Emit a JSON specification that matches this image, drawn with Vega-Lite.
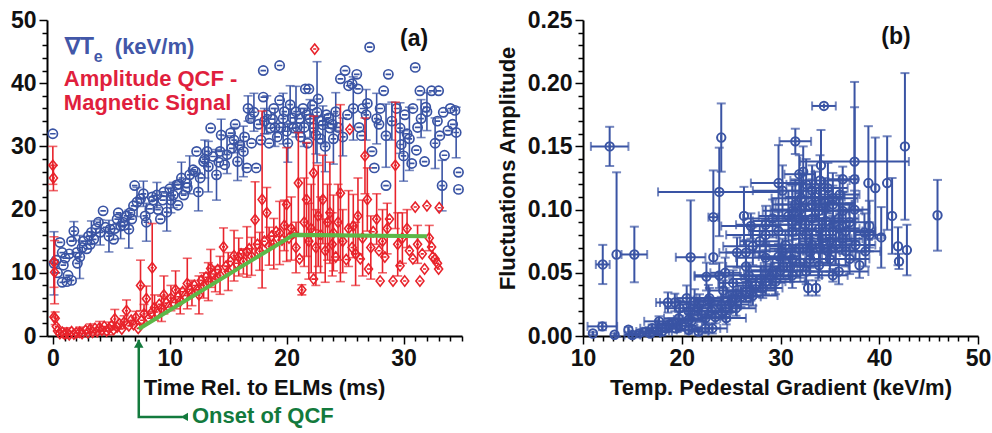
{
"$schema": "https://vega.github.io/schema/vega-lite/v6.json",
"padding": {"left": 10, "top": 9, "right": 5, "bottom": 5},
"background": "white",
"spacing": 29,
"config": {"view": {"stroke": null}, "axis": {"grid": false, "domainColor": "#000", "domainWidth": 2, "tickColor": "#000", "tickWidth": 1.5, "labelFont": "Liberation Sans", "labelFontSize": 23, "labelFontWeight": "bold", "labelColor": "#111", "titleFont": "Liberation Sans", "titleFontSize": 22, "titleFontWeight": "bold", "titleColor": "#111", "labelOverlap": false, "labelPadding": 3, "labelFlush": false}},
"datasets": {
"te": [{"x":0,"y":32,"e":0},{"x":0.1,"y":11.5,"e":5},{"x":0.4,"y":10,"e":0},{"x":0.6,"y":14.8,"e":0},{"x":0.8,"y":13.2,"e":0},{"x":0.9,"y":11.2,"e":0},{"x":0.8,"y":8.5,"e":0},{"x":1.2,"y":8.6,"e":0},{"x":1.6,"y":8.8,"e":0},{"x":1.3,"y":9.6,"e":0},{"x":1.05,"y":12.3,"e":0},{"x":1.6,"y":15,"e":0},{"x":1.8,"y":16.6,"e":1.5},{"x":2.05,"y":13.2,"e":0},{"x":2.3,"y":12.5,"e":3.4},{"x":2.1,"y":11.5,"e":0},{"x":2.6,"y":15,"e":0},{"x":3.05,"y":15.8,"e":0},{"x":3.3,"y":16.4,"e":1.8},{"x":2.9,"y":13.8,"e":0},{"x":3.9,"y":18,"e":0},{"x":3.5,"y":15.3,"e":0},{"x":4.05,"y":16.4,"e":2},{"x":4.3,"y":19.8,"e":0},{"x":4.5,"y":17.2,"e":0},{"x":4.8,"y":15.8,"e":2.5},{"x":4.9,"y":16.9,"e":0},{"x":5.2,"y":15.3,"e":0},{"x":5.5,"y":18.5,"e":0},{"x":5.6,"y":19.5,"e":0},{"x":5.8,"y":17.4,"e":2},{"x":6.0,"y":18,"e":0},{"x":6.3,"y":19,"e":0},{"x":6.5,"y":16.9,"e":3},{"x":6.75,"y":18.5,"e":0},{"x":6.9,"y":20.6,"e":0},{"x":7.0,"y":23.8,"e":0},{"x":7.2,"y":21.2,"e":2.3},{"x":7.5,"y":21.7,"e":0},{"x":7.75,"y":22.5,"e":2},{"x":7.9,"y":19,"e":0},{"x":8.0,"y":18,"e":3},{"x":8.3,"y":20.1,"e":0},{"x":8.6,"y":21.5,"e":0},{"x":8.9,"y":22.3,"e":2},{"x":9.2,"y":18.5,"e":0},{"x":9.5,"y":22.8,"e":0},{"x":9.75,"y":19.6,"e":3},{"x":10.0,"y":23.3,"e":0},{"x":10.3,"y":22.3,"e":2},{"x":10.6,"y":23.9,"e":0},{"x":10.7,"y":20.7,"e":0},{"x":11.0,"y":25,"e":2.5},{"x":11.2,"y":22.3,"e":0},{"x":11.45,"y":24.2,"e":0},{"x":11.7,"y":25.5,"e":3},{"x":12,"y":26.3,"e":0},{"x":12.3,"y":29.2,"e":0},{"x":12.45,"y":22.8,"e":3},{"x":12.6,"y":25,"e":0},{"x":12.9,"y":27.6,"e":0},{"x":13.2,"y":29.2,"e":0},{"x":13.5,"y":32.9,"e":0},{"x":13.3,"y":26.8,"e":4},{"x":13.7,"y":28.4,"e":0},{"x":14.0,"y":25.5,"e":4},{"x":14.3,"y":29.2,"e":0},{"x":14.4,"y":31.8,"e":2.5},{"x":14.7,"y":27.1,"e":0},{"x":14.9,"y":28.7,"e":3},{"x":15.2,"y":32.1,"e":0},{"x":15.3,"y":29.7,"e":0},{"x":15.6,"y":33.5,"e":0},{"x":15.8,"y":27.6,"e":3},{"x":16.0,"y":30.2,"e":0},{"x":16.3,"y":29.2,"e":4},{"x":16.6,"y":26.6,"e":0},{"x":16.7,"y":36,"e":2},{"x":16.9,"y":34.4,"e":0},{"x":17.2,"y":35.4,"e":3},{"x":17.4,"y":26.6,"e":0},{"x":17.6,"y":33.5,"e":0},{"x":18,"y":42,"e":0},{"x":18,"y":37.8,"e":0},{"x":18.3,"y":35,"e":3},{"x":18.6,"y":32.9,"e":0},{"x":18.9,"y":36,"e":0},{"x":19.4,"y":42.8,"e":0},{"x":19.4,"y":37.3,"e":0},{"x":19.7,"y":34.4,"e":4},{"x":20,"y":32.4,"e":0},{"x":20.3,"y":36.6,"e":3},{"x":20.6,"y":32.9,"e":0},{"x":21.1,"y":34.4,"e":0},{"x":21.4,"y":36,"e":0},{"x":21.6,"y":39.1,"e":0},{"x":21.9,"y":39.1,"e":0},{"x":22,"y":34.4,"e":3},{"x":22.3,"y":32.9,"e":0},{"x":22.6,"y":35.4,"e":8},{"x":22.7,"y":37.5,"e":0},{"x":22.9,"y":31.2,"e":0},{"x":23.1,"y":33.4,"e":3},{"x":23.4,"y":35,"e":0},{"x":23.7,"y":32.9,"e":0},{"x":24,"y":31.2,"e":4},{"x":24.6,"y":40.7,"e":0},{"x":25,"y":42,"e":0},{"x":25.3,"y":39.6,"e":0},{"x":25.6,"y":39.9,"e":0},{"x":26,"y":41.4,"e":0},{"x":26.1,"y":39.1,"e":0},{"x":25.7,"y":36,"e":5},{"x":26.4,"y":31.7,"e":0},{"x":26.5,"y":36,"e":0},{"x":26.8,"y":35,"e":4},{"x":27.1,"y":45.7,"e":0},{"x":27.3,"y":29.2,"e":0},{"x":27.5,"y":26.6,"e":0},{"x":27.7,"y":34.4,"e":4},{"x":28,"y":36,"e":0},{"x":28.3,"y":38.8,"e":0},{"x":28.5,"y":31.7,"e":5},{"x":28.5,"y":23.8,"e":0},{"x":28.7,"y":41.4,"e":0},{"x":29.4,"y":36,"e":0},{"x":29.7,"y":32.9,"e":4},{"x":29.8,"y":30.3,"e":0},{"x":30.1,"y":35,"e":0},{"x":30.5,"y":31.2,"e":5},{"x":30.7,"y":27.3,"e":0},{"x":30.8,"y":36,"e":0},{"x":31,"y":42.5,"e":0},{"x":31.1,"y":29.4,"e":0},{"x":31.4,"y":38.8,"e":0},{"x":31.5,"y":34.4,"e":3},{"x":31.8,"y":27.6,"e":0},{"x":31.9,"y":36.2,"e":0},{"x":32.4,"y":38.8,"e":0},{"x":32.7,"y":30.5,"e":4},{"x":33,"y":38.8,"e":0},{"x":33.1,"y":31.7,"e":0},{"x":33.3,"y":23.8,"e":4},{"x":33.4,"y":35.4,"e":0},{"x":33.5,"y":28.6,"e":0},{"x":34,"y":36,"e":0},{"x":34.2,"y":33.5,"e":0},{"x":34.5,"y":32.2,"e":4},{"x":34.7,"y":25.9,"e":0},{"x":34.7,"y":23.2,"e":0},{"x":34.4,"y":35.7,"e":0},{"x":17.8,"y":31,"e":0},{"x":18.1,"y":34,"e":2},{"x":18.5,"y":30.5,"e":0},{"x":19,"y":33,"e":3},{"x":19.2,"y":31.5,"e":0},{"x":19.8,"y":35.5,"e":0},{"x":20.1,"y":30.5,"e":3},{"x":20.5,"y":34.5,"e":0},{"x":20.8,"y":35.5,"e":4},{"x":21.2,"y":31.5,"e":0},{"x":21.5,"y":33,"e":3},{"x":21.8,"y":30.5,"e":0},{"x":22.2,"y":36.5,"e":0},{"x":22.5,"y":31.8,"e":3},{"x":23.0,"y":34,"e":0},{"x":23.3,"y":30,"e":4},{"x":23.6,"y":34.5,"e":0},{"x":23.9,"y":33.5,"e":0},{"x":24.2,"y":35.5,"e":3},{"x":24.4,"y":33,"e":0},{"x":20.9,"y":33,"e":0},{"x":21.7,"y":35,"e":0},{"x":19.5,"y":33,"e":0},{"x":18.8,"y":34.3,"e":0},{"x":17,"y":30.5,"e":0},{"x":16.4,"y":31.5,"e":0},{"x":15.5,"y":31,"e":2},{"x":14.2,"y":27.5,"e":0},{"x":13.0,"y":28,"e":3},{"x":12.2,"y":26,"e":0},{"x":11.5,"y":23.5,"e":0},{"x":10.8,"y":24,"e":0},{"x":10.1,"y":21.5,"e":2},{"x":9.4,"y":21.5,"e":0},{"x":9,"y":20,"e":0},{"x":8.5,"y":22,"e":0},{"x":6.6,"y":19.5,"e":0},{"x":6.1,"y":17.5,"e":0},{"x":5.3,"y":17,"e":0},{"x":3.7,"y":17,"e":0},{"x":3.2,"y":14.5,"e":0},{"x":2.5,"y":14,"e":0},{"x":1.4,"y":13,"e":0},{"x":0.3,"y":12,"e":0},{"x":27.9,"y":33.5,"e":0},{"x":29,"y":34,"e":3},{"x":30.3,"y":32,"e":0},{"x":31.2,"y":33,"e":0},{"x":32,"y":35.5,"e":3},{"x":32.9,"y":34,"e":0},{"x":33.8,"y":32.5,"e":0},{"x":26.2,"y":33,"e":0},{"x":25.2,"y":35,"e":0},{"x":24.8,"y":31.5,"e":3},{"x":26.9,"y":36.8,"e":0},{"x":30.0,"y":28.5,"e":4}],
"qcf": [{"x":0,"y":27,"e":3},{"x":0.05,"y":25,"e":2},{"x":0.1,"y":11.7,"e":4},{"x":0.15,"y":10.1,"e":5},{"x":0.1,"y":3.0,"e":0},{"x":0.2,"y":2.8,"e":1},{"x":0.3,"y":1.5,"e":0},{"x":0.4,"y":0.8,"e":0},{"x":0.6,"y":0.4,"e":0},{"x":0.8,"y":0.6,"e":0},{"x":1.0,"y":0.3,"e":0},{"x":1.2,"y":0.5,"e":0.8},{"x":1.4,"y":0.2,"e":0},{"x":1.6,"y":0.7,"e":0},{"x":1.8,"y":0.3,"e":0},{"x":2.0,"y":0.5,"e":0},{"x":2.3,"y":0.6,"e":0.8},{"x":2.5,"y":0.4,"e":0},{"x":2.8,"y":0.9,"e":0},{"x":3.0,"y":0.5,"e":0},{"x":3.2,"y":1.1,"e":0.8},{"x":3.4,"y":0.6,"e":0},{"x":3.6,"y":1.2,"e":0},{"x":3.8,"y":0.7,"e":0},{"x":4.0,"y":1.3,"e":1},{"x":4.2,"y":0.9,"e":0},{"x":4.4,"y":1.5,"e":0},{"x":4.6,"y":0.8,"e":0},{"x":4.8,"y":1.2,"e":1},{"x":5.0,"y":1.6,"e":0},{"x":5.2,"y":1.0,"e":0},{"x":5.3,"y":2.7,"e":1.5},{"x":5.5,"y":1.4,"e":0},{"x":5.7,"y":1.9,"e":0},{"x":5.9,"y":1.1,"e":0},{"x":6.1,"y":2.2,"e":1},{"x":6.3,"y":4.0,"e":1.7},{"x":6.5,"y":1.6,"e":0},{"x":6.7,"y":2.5,"e":0},{"x":6.9,"y":1.8,"e":0},{"x":7.1,"y":2.9,"e":1},{"x":7.3,"y":1.2,"e":0},{"x":7.5,"y":8.0,"e":4},{"x":7.6,"y":2.5,"e":0},{"x":7.8,"y":3.5,"e":1.5},{"x":8.0,"y":5.9,"e":2},{"x":8.2,"y":2.8,"e":0},{"x":8.4,"y":3.6,"e":0},{"x":8.5,"y":10.8,"e":7},{"x":8.7,"y":4.5,"e":2},{"x":8.9,"y":3.8,"e":0},{"x":9.1,"y":5.0,"e":0},{"x":9.3,"y":4.3,"e":2},{"x":9.5,"y":6.5,"e":3},{"x":9.7,"y":5.2,"e":0},{"x":9.9,"y":4.6,"e":0},{"x":10.1,"y":6.0,"e":2},{"x":10.3,"y":5.3,"e":0},{"x":10.5,"y":7.3,"e":3},{"x":10.7,"y":6.2,"e":0},{"x":10.9,"y":5.5,"e":2},{"x":11.1,"y":7.0,"e":0},{"x":11.3,"y":6.4,"e":0},{"x":11.5,"y":8.3,"e":4},{"x":11.7,"y":7.4,"e":0},{"x":11.9,"y":6.8,"e":2},{"x":12.1,"y":8.0,"e":0},{"x":12.3,"y":7.3,"e":0},{"x":12.5,"y":6.5,"e":3},{"x":12.7,"y":8.8,"e":0},{"x":12.9,"y":8.0,"e":2},{"x":13.1,"y":9.3,"e":0},{"x":13.3,"y":8.6,"e":3},{"x":13.5,"y":10.7,"e":3},{"x":13.7,"y":9.8,"e":0},{"x":13.9,"y":9.0,"e":2},{"x":14.1,"y":10.5,"e":0},{"x":14.3,"y":9.6,"e":3},{"x":14.6,"y":14.1,"e":3},{"x":14.8,"y":11.0,"e":0},{"x":15.0,"y":10.2,"e":3},{"x":15.2,"y":11.8,"e":0},{"x":15.5,"y":12.7,"e":4},{"x":15.7,"y":11.5,"e":0},{"x":15.9,"y":12.5,"e":3},{"x":16.1,"y":13.0,"e":0},{"x":16.3,"y":11.8,"e":2},{"x":16.6,"y":13.3,"e":4},{"x":16.8,"y":13.8,"e":0},{"x":17.0,"y":12.6,"e":3},{"x":17.3,"y":18.4,"e":6},{"x":17.5,"y":14.5,"e":0},{"x":17.7,"y":13.4,"e":3},{"x":17.9,"y":21.6,"e":14},{"x":18.1,"y":15.0,"e":0},{"x":18.3,"y":19.5,"e":4},{"x":18.5,"y":14.2,"e":3},{"x":18.7,"y":15.8,"e":0},{"x":18.9,"y":14.6,"e":4},{"x":19.1,"y":16.5,"e":0},{"x":19.4,"y":16.3,"e":5},{"x":19.6,"y":15.2,"e":0},{"x":19.8,"y":17.5,"e":4},{"x":20.0,"y":20.8,"e":9},{"x":20.2,"y":15.5,"e":0},{"x":20.4,"y":17.0,"e":5},{"x":20.6,"y":16.3,"e":0},{"x":20.8,"y":14.0,"e":4},{"x":21.0,"y":24.2,"e":8},{"x":21.1,"y":12.2,"e":0},{"x":21.3,"y":7.3,"e":0.8},{"x":21.5,"y":18,"e":7},{"x":21.7,"y":21.6,"e":9},{"x":21.9,"y":15,"e":6},{"x":22.1,"y":17,"e":7},{"x":22.3,"y":25.8,"e":9},{"x":22.3,"y":9.0,"e":0},{"x":22.4,"y":45.4,"e":0},{"x":22.5,"y":14,"e":6},{"x":22.7,"y":19,"e":8},{"x":22.9,"y":16,"e":6},{"x":23.1,"y":21.6,"e":7},{"x":23.3,"y":13.5,"e":5},{"x":23.5,"y":18,"e":6},{"x":23.7,"y":19.5,"e":8},{"x":23.9,"y":14.5,"e":5},{"x":24.0,"y":16.3,"e":6},{"x":24.2,"y":12.5,"e":0},{"x":24.4,"y":18,"e":6},{"x":24.6,"y":22.6,"e":14},{"x":24.8,"y":15,"e":5},{"x":25.1,"y":12.1,"e":0},{"x":25.3,"y":17,"e":6},{"x":25.4,"y":32.7,"e":0},{"x":25.6,"y":14,"e":0},{"x":25.7,"y":17.4,"e":5},{"x":25.9,"y":13,"e":5},{"x":26.1,"y":19,"e":6},{"x":26.3,"y":12.2,"e":0},{"x":26.5,"y":15.5,"e":6},{"x":26.7,"y":28.5,"e":6},{"x":26.9,"y":21.6,"e":5},{"x":27.0,"y":10.6,"e":0},{"x":27.2,"y":14,"e":5},{"x":27.4,"y":16.5,"e":0},{"x":27.7,"y":18.5,"e":4},{"x":27.9,"y":13.5,"e":0},{"x":28.0,"y":8.7,"e":0},{"x":28.2,"y":15,"e":5},{"x":28.4,"y":12.5,"e":0},{"x":28.6,"y":17,"e":4},{"x":28.8,"y":18.5,"e":0},{"x":29.1,"y":8.7,"e":0},{"x":29.3,"y":27,"e":10},{"x":29.5,"y":14.5,"e":5},{"x":29.7,"y":11.1,"e":0},{"x":29.9,"y":15.5,"e":4},{"x":30.1,"y":8.7,"e":0},{"x":30.3,"y":17,"e":3},{"x":30.5,"y":13.5,"e":0},{"x":30.8,"y":12.2,"e":0},{"x":31.0,"y":20.4,"e":0},{"x":31.2,"y":14.5,"e":3},{"x":31.4,"y":8.7,"e":0},{"x":31.6,"y":13,"e":0},{"x":31.8,"y":10.6,"e":0},{"x":32.0,"y":20.6,"e":0},{"x":32.2,"y":15.5,"e":2},{"x":32.4,"y":14.1,"e":0},{"x":32.5,"y":12.5,"e":0},{"x":32.7,"y":12.2,"e":0},{"x":32.9,"y":11.5,"e":0},{"x":33.0,"y":10.6,"e":0},{"x":33.05,"y":20.3,"e":0}],
"fb": [{"x":12.7,"y":0.150,"ex":1.9,"ey":0.0155},{"x":12.0,"y":0.0566,"ex":0.7,"ey":0.0155},{"x":13.4,"y":0.0645,"ex":0,"ey":0.065},{"x":15.2,"y":0.0645,"ex":1.3,"ey":0.022},{"x":11.96,"y":0.0076,"ex":1.5,"ey":0.003},{"x":14.6,"y":0.005,"ex":0,"ey":0.002},{"x":20.9,"y":0.0623,"ex":1.5,"ey":0.045},{"x":23.8,"y":0.114,"ex":6.2,"ey":0.035},{"x":24.0,"y":0.157,"ex":0,"ey":0.027},{"x":23.2,"y":0.094,"ex":0.5,"ey":0.037},{"x":23.2,"y":0.0623,"ex":0,"ey":0},{"x":26.3,"y":0.095,"ex":0,"ey":0.023},{"x":29.8,"y":0.121,"ex":2.8,"ey":0.03},{"x":31.5,"y":0.154,"ex":1.6,"ey":0.01},{"x":34.4,"y":0.182,"ex":1.2,"ey":0},{"x":34.1,"y":0.135,"ex":0,"ey":0.028},{"x":37.5,"y":0.138,"ex":5.5,"ey":0.063},{"x":37.5,"y":0.124,"ex":0,"ey":0.057},{"x":42.6,"y":0.150,"ex":0,"ey":0.058},{"x":45.9,"y":0.0955,"ex":0,"ey":0.028},{"x":41.3,"y":0.095,"ex":0,"ey":0.03},{"x":41.9,"y":0.071,"ex":0,"ey":0.015},{"x":42.8,"y":0.068,"ex":0,"ey":0.02},{"x":42.0,"y":0.059,"ex":0,"ey":0.006},{"x":40.2,"y":0.078,"ex":0,"ey":0.024},{"x":40.8,"y":0.121,"ex":0,"ey":0.037},{"x":38.9,"y":0.121,"ex":0,"ey":0.045},{"x":39.6,"y":0.117,"ex":0,"ey":0.04},{"x":39.0,"y":0.087,"ex":0,"ey":0.02},{"x":32.8,"y":0.038,"ex":0,"ey":0.006},{"x":33.6,"y":0.038,"ex":0,"ey":0.006},{"x":35.3,"y":0.048,"ex":1.5,"ey":0.005},{"x":38.0,"y":0.056,"ex":0,"ey":0.01},{"x":18.6,"y":0.0265,"ex":1.2,"ey":0.008},{"x":19.3,"y":0.0265,"ex":1.5,"ey":0.007},{"x":20.7,"y":0.0196,"ex":1,"ey":0.006},{"x":21.3,"y":0.027,"ex":2,"ey":0.01},{"x":22.7,"y":0.0284,"ex":1.5,"ey":0.012},{"x":22.5,"y":0.047,"ex":1.2,"ey":0.011},{"x":23.8,"y":0.048,"ex":2.5,"ey":0.01},{"x":24.4,"y":0.05,"ex":1.5,"ey":0.012},{"x":25.6,"y":0.066,"ex":1.8,"ey":0.012},{"x":26.5,"y":0.066,"ex":2,"ey":0.01},{"x":27.2,"y":0.071,"ex":3,"ey":0.015},{"x":27.0,"y":0.087,"ex":3,"ey":0.01},{"x":26.5,"y":0.055,"ex":2,"ey":0.012},{"x":28.5,"y":0.062,"ex":3,"ey":0.012},{"x":28.5,"y":0.080,"ex":4,"ey":0.012},{"x":29.8,"y":0.063,"ex":2,"ey":0.01},{"x":30.2,"y":0.115,"ex":3,"ey":0.02},{"x":30.3,"y":0.055,"ex":2,"ey":0.01},{"x":31.9,"y":0.128,"ex":1.5,"ey":0.015},{"x":32.1,"y":0.109,"ex":3,"ey":0.02},{"x":33.2,"y":0.104,"ex":4,"ey":0.02},{"x":33.9,"y":0.085,"ex":3,"ey":0.015},{"x":35.3,"y":0.109,"ex":2.5,"ey":0.02},{"x":36.3,"y":0.124,"ex":1.5,"ey":0.01},{"x":35.6,"y":0.072,"ex":3,"ey":0.015},{"x":36.6,"y":0.083,"ex":3,"ey":0.015},{"x":34.8,"y":0.067,"ex":2.5,"ey":0.01},{"x":32.6,"y":0.080,"ex":3,"ey":0.015},{"x":31.2,"y":0.091,"ex":4,"ey":0.015},{"x":30.5,"y":0.072,"ex":3,"ey":0.012},{"x":29.2,"y":0.051,"ex":2.5,"ey":0.01},{"x":28.5,"y":0.043,"ex":2,"ey":0.01},{"x":27.5,"y":0.040,"ex":2,"ey":0.008},{"x":26.5,"y":0.035,"ex":2,"ey":0.008},{"x":25.5,"y":0.030,"ex":1.5,"ey":0.007},{"x":24.8,"y":0.025,"ex":2,"ey":0.007},{"x":24.1,"y":0.019,"ex":1.5,"ey":0.006},{"x":23.4,"y":0.015,"ex":1.5,"ey":0.005},{"x":22.4,"y":0.014,"ex":1.5,"ey":0.005},{"x":21.6,"y":0.022,"ex":1.5,"ey":0.006},{"x":20.7,"y":0.013,"ex":1.5,"ey":0.005},{"x":19.7,"y":0.014,"ex":1.5,"ey":0.005},{"x":18.7,"y":0.0089,"ex":1.2,"ey":0.004},{"x":17.7,"y":0.0116,"ex":1.5,"ey":0.004},{"x":17.0,"y":0.0061,"ex":1.2,"ey":0.003},{"x":16.4,"y":0.0035,"ex":1,"ey":0.003},{"x":15.7,"y":0.0021,"ex":1,"ey":0.002},{"x":15.0,"y":0.0008,"ex":0.8,"ey":0.002},{"x":18.0,"y":0.0035,"ex":1,"ey":0.003},{"x":19.4,"y":0.006,"ex":1,"ey":0.003},{"x":20.7,"y":0.0048,"ex":1.2,"ey":0.003},{"x":21.7,"y":0.0035,"ex":1,"ey":0.003},{"x":23.1,"y":0.006,"ex":1.5,"ey":0.004},{"x":24.5,"y":0.0142,"ex":2,"ey":0.005},{"x":22.4,"y":0.006,"ex":1.5,"ey":0.004},{"x":25.5,"y":0.022,"ex":2,"ey":0.006},{"x":27.2,"y":0.032,"ex":2.5,"ey":0.008},{"x":28.2,"y":0.038,"ex":2,"ey":0.008},{"x":29.5,"y":0.043,"ex":3,"ey":0.01},{"x":31.2,"y":0.048,"ex":3,"ey":0.01},{"x":32.6,"y":0.051,"ex":3,"ey":0.01},{"x":33.9,"y":0.056,"ex":3,"ey":0.01},{"x":35.9,"y":0.051,"ex":3,"ey":0.01},{"x":37.0,"y":0.061,"ex":2,"ey":0.012},{"x":37.6,"y":0.072,"ex":2,"ey":0.012},{"x":38.6,"y":0.067,"ex":1.5,"ey":0.012},{"x":39.0,"y":0.080,"ex":1.5,"ey":0.01},{"x":31.2,"y":0.099,"ex":3,"ey":0.02},{"x":31.5,"y":0.104,"ex":2,"ey":0.02},{"x":31.9,"y":0.093,"ex":2.5,"ey":0.02},{"x":33.2,"y":0.093,"ex":3,"ey":0.02},{"x":33.9,"y":0.099,"ex":3,"ey":0.02},{"x":34.6,"y":0.091,"ex":3,"ey":0.015},{"x":35.9,"y":0.093,"ex":2,"ey":0.015},{"x":36.3,"y":0.099,"ex":2,"ey":0.015},{"x":33.2,"y":0.115,"ex":2,"ey":0.02},{"x":32.6,"y":0.120,"ex":2,"ey":0.02},{"x":35.3,"y":0.104,"ex":2,"ey":0.015},{"x":31.2,"y":0.083,"ex":3,"ey":0.015},{"x":29.8,"y":0.083,"ex":3,"ey":0.015},{"x":29.2,"y":0.093,"ex":3,"ey":0.015},{"x":28.5,"y":0.088,"ex":3,"ey":0.015},{"x":31.9,"y":0.069,"ex":3,"ey":0.012},{"x":33.2,"y":0.072,"ex":3,"ey":0.012},{"x":34.2,"y":0.077,"ex":3,"ey":0.012},{"x":35.3,"y":0.083,"ex":3,"ey":0.012},{"x":36.3,"y":0.077,"ex":2,"ey":0.012},{"x":36.6,"y":0.067,"ex":2,"ey":0.012},{"x":35.0,"y":0.061,"ex":2.5,"ey":0.01},{"x":33.0,"y":0.061,"ex":2.5,"ey":0.01},{"x":31.2,"y":0.061,"ex":3,"ey":0.01},{"x":30.2,"y":0.067,"ex":3,"ey":0.01},{"x":16.8,"y":0.002,"ex":1,"ey":0.002},{"x":17.5,"y":0.004,"ex":1.2,"ey":0.003},{"x":18.4,"y":0.006,"ex":1.5,"ey":0.003},{"x":19.0,"y":0.010,"ex":1.5,"ey":0.004},{"x":20.0,"y":0.008,"ex":1.5,"ey":0.004},{"x":21.0,"y":0.012,"ex":1.5,"ey":0.005},{"x":22.0,"y":0.017,"ex":1.5,"ey":0.006},{"x":23.0,"y":0.020,"ex":2,"ey":0.006},{"x":24.0,"y":0.024,"ex":2,"ey":0.007},{"x":25.0,"y":0.027,"ex":2,"ey":0.007},{"x":26.0,"y":0.031,"ex":2,"ey":0.008},{"x":27.0,"y":0.036,"ex":2.5,"ey":0.008},{"x":28.0,"y":0.045,"ex":3,"ey":0.01},{"x":29.0,"y":0.047,"ex":3,"ey":0.01},{"x":30.0,"y":0.052,"ex":3,"ey":0.01},{"x":31.0,"y":0.055,"ex":3,"ey":0.012},{"x":32.0,"y":0.058,"ex":3,"ey":0.012},{"x":33.0,"y":0.066,"ex":3,"ey":0.012},{"x":34.0,"y":0.070,"ex":3,"ey":0.012},{"x":35.0,"y":0.075,"ex":3,"ey":0.012},{"x":36.0,"y":0.085,"ex":2,"ey":0.015},{"x":37.0,"y":0.090,"ex":2,"ey":0.015},{"x":32.5,"y":0.088,"ex":3,"ey":0.015},{"x":34.5,"y":0.105,"ex":3,"ey":0.02},{"x":33.5,"y":0.110,"ex":3,"ey":0.02},{"x":32.0,"y":0.100,"ex":3,"ey":0.02},{"x":30.8,"y":0.095,"ex":3,"ey":0.02},{"x":34.0,"y":0.123,"ex":3,"ey":0.02},{"x":32.3,"y":0.130,"ex":0,"ey":0.02},{"x":34.8,"y":0.117,"ex":2,"ey":0.02},{"x":36.0,"y":0.112,"ex":2,"ey":0.015},{"x":37.5,"y":0.100,"ex":1.5,"ey":0.015},{"x":38.5,"y":0.082,"ex":1,"ey":0.015},{"x":27.9,"y":0.075,"ex":2,"ey":0.012},{"x":26.8,"y":0.048,"ex":2,"ey":0.01},{"x":25.2,"y":0.042,"ex":1.5,"ey":0.01},{"x":24.2,"y":0.036,"ex":1.5,"ey":0.008},{"x":22.8,"y":0.030,"ex":2,"ey":0.008},{"x":21.8,"y":0.025,"ex":2,"ey":0.008},{"x":20.5,"y":0.030,"ex":1,"ey":0.01},{"x":19.8,"y":0.022,"ex":1.5,"ey":0.006},{"x":13.2,"y":0.001,"ex":0,"ey":0.001},{"x":11.0,"y":0.002,"ex":0,"ey":0.001}],
"green": [{"x":7.35,"y":1.1},{"x":20.6,"y":16.0},{"x":32.0,"y":15.8}],
"onset": [{"x":7.35,"y":-0.6},{"x":7.35,"y":-12.8},{"x":11.1,"y":-12.8}]
},
"hconcat": [
{
"width": 415, "height": 316,
"encoding": {
"x": {"field": "x", "type": "quantitative", "scale": {"domain": [-0.5, 35], "nice": false, "zero": false},
 "axis": {"title": "Time Rel. to ELMs (ms)", "titleX": 217, "titlePadding": 7, "values": [0,1,2,3,4,5,6,7,8,9,10,11,12,13,14,15,16,17,18,19,20,21,22,23,24,25,26,27,28,29,30,31,32,33,34,35], "labelExpr": "datum.value % 10 === 0 ? datum.label : ''", "tickSize": {"condition": {"test": "datum.value % 10 === 0", "value": 8}, "value": 5}}},
"y": {"field": "y", "type": "quantitative", "scale": {"domain": [0, 50], "nice": false, "zero": false},
 "axis": {"title": null, "values": [0,2,4,6,8,10,12,14,16,18,20,22,24,26,28,30,32,34,36,38,40,42,44,46,48,50], "labelExpr": "datum.value % 10 === 0 ? datum.label : ''", "tickSize": {"condition": {"test": "datum.value % 10 === 0", "value": 8}, "value": 5}}}
},
"layer": [
{"data": {"name": "te"}, "transform": [{"filter": "datum.e > 0"}], "mark": {"type": "errorbar", "color": "#3a54a4", "thickness": 1.6, "ticks": {"size": 9}}, "encoding": {"yError": {"field": "e"}}},
{"data": {"name": "te"}, "mark": {"type": "point", "shape": "M-1,0A1,1 0 1,1 1,0A1,1 0 1,1 -1,0M-0.6,0L0.6,0", "size": 85, "filled": false, "stroke": "#3a54a4", "strokeWidth": 1.7, "opacity": 1}},
{"data": {"name": "qcf"}, "transform": [{"filter": "datum.e > 0"}], "mark": {"type": "errorbar", "color": "#e8232b", "thickness": 1.6, "ticks": {"size": 9}}, "encoding": {"yError": {"field": "e"}}},
{"data": {"name": "qcf"}, "mark": {"type": "point", "shape": "M0,-1.15L0.9,0L0,1.15L-0.9,0Z M-0.35,0L0.35,0", "size": 80, "filled": false, "stroke": "#e8232b", "strokeWidth": 1.6, "opacity": 1}},
{"data": {"name": "green"}, "mark": {"type": "line", "color": "#5cb848", "strokeWidth": 4}},
{"data": {"name": "onset"}, "mark": {"type": "line", "color": "#137a3d", "strokeWidth": 2.5}, "encoding": {"order": {"value": null}}},
{"data": {"values": [{"x": 7.35, "y": -1.2}]}, "mark": {"type": "point", "shape": "triangle-up", "filled": true, "color": "#137a3d", "size": 90, "opacity": 1}},
{"data": {"values": [{"x": 11.25, "y": -12.8}]}, "mark": {"type": "point", "shape": "triangle-left", "filled": true, "color": "#137a3d", "size": 70, "opacity": 1}},
{"data": {"values": [{"x": 11.9, "y": -12.7, "t": "Onset of QCF"}]}, "mark": {"type": "text", "align": "left", "baseline": "middle", "font": "Liberation Sans", "fontWeight": "bold", "fontSize": 22, "color": "#137a3d"}, "encoding": {"text": {"field": "t"}}},
{"data": {"values": [{"x": 1.03, "y": 44.6, "t": "∇T"}]}, "mark": {"type": "text", "align": "left", "baseline": "alphabetic", "font": "Liberation Sans", "fontWeight": "bold", "fontSize": 23, "color": "#4257a8"}, "encoding": {"text": {"field": "t"}}},
{"data": {"values": [{"x": 3.5, "y": 43.4, "t": "e"}]}, "mark": {"type": "text", "align": "left", "baseline": "alphabetic", "font": "Liberation Sans", "fontWeight": "bold", "fontSize": 16, "color": "#4257a8"}, "encoding": {"text": {"field": "t"}}},
{"data": {"values": [{"x": 5.3, "y": 44.6, "t": "(keV/m)"}]}, "mark": {"type": "text", "align": "left", "baseline": "alphabetic", "font": "Liberation Sans", "fontWeight": "bold", "fontSize": 22, "color": "#4257a8"}, "encoding": {"text": {"field": "t"}}},
{"data": {"values": [{"x": 0.94, "y": 39.6, "t": "Amplitude QCF -"}, {"x": 0.94, "y": 35.8, "t": "Magnetic Signal"}]}, "mark": {"type": "text", "align": "left", "baseline": "alphabetic", "font": "Liberation Sans", "fontWeight": "bold", "fontSize": 22, "color": "#e01f3d"}, "encoding": {"text": {"field": "t"}}},
{"data": {"values": [{"x": 29.7, "y": 45.9, "t": "(a)"}]}, "mark": {"type": "text", "align": "left", "baseline": "alphabetic", "font": "Liberation Sans", "fontWeight": "bold", "fontSize": 23, "color": "#111"}, "encoding": {"text": {"field": "t"}}}
]
},
{
"width": 395, "height": 316,
"encoding": {
"x": {"field": "x", "type": "quantitative", "scale": {"domain": [10, 50], "nice": false, "zero": false},
 "axis": {"title": "Temp. Pedestal Gradient (keV/m)", "titlePadding": 7, "values": [10,11,12,13,14,15,16,17,18,19,20,21,22,23,24,25,26,27,28,29,30,31,32,33,34,35,36,37,38,39,40,41,42,43,44,45,46,47,48,49,50], "labelExpr": "datum.value % 10 === 0 ? datum.label : ''", "tickSize": {"condition": {"test": "datum.value % 10 === 0", "value": 8}, "value": 5}}},
"y": {"field": "y", "type": "quantitative", "scale": {"domain": [0, 0.25], "nice": false, "zero": false},
 "axis": {"title": "Fluctuations Amplitude", "titleY": 148, "titlePadding": 8, "format": ".2f", "values": [0,0.01,0.02,0.03,0.04,0.05,0.06,0.07,0.08,0.09,0.1,0.11,0.12,0.13,0.14,0.15,0.16,0.17,0.18,0.19,0.2,0.21,0.22,0.23,0.24,0.25], "labelExpr": "round(datum.value * 100) % 5 === 0 ? datum.label : ''", "tickSize": {"condition": {"test": "round(datum.value * 100) % 5 === 0", "value": 8}, "value": 5}}}
},
"layer": [
{"data": {"name": "fb"}, "transform": [{"filter": "datum.ey > 0"}], "mark": {"type": "errorbar", "color": "#3a54a4", "thickness": 2, "ticks": {"size": 9}}, "encoding": {"yError": {"field": "ey"}}},
{"data": {"name": "fb"}, "transform": [{"filter": "datum.ex > 0"}], "mark": {"type": "errorbar", "color": "#3a54a4", "thickness": 2, "ticks": {"size": 9}}, "encoding": {"xError": {"field": "ex"}}},
{"data": {"name": "fb"}, "mark": {"type": "point", "shape": "M-1,0A1,1 0 1,1 1,0A1,1 0 1,1 -1,0M0,-0.6L0,0.6", "size": 70, "filled": false, "stroke": "#3a54a4", "strokeWidth": 2, "opacity": 1}},
{"data": {"values": [{"x": 40.2, "y": 0.231, "t": "(b)"}]}, "mark": {"type": "text", "align": "left", "baseline": "alphabetic", "font": "Liberation Sans", "fontWeight": "bold", "fontSize": 23, "color": "#111"}, "encoding": {"text": {"field": "t"}}}
]
}
]
}
